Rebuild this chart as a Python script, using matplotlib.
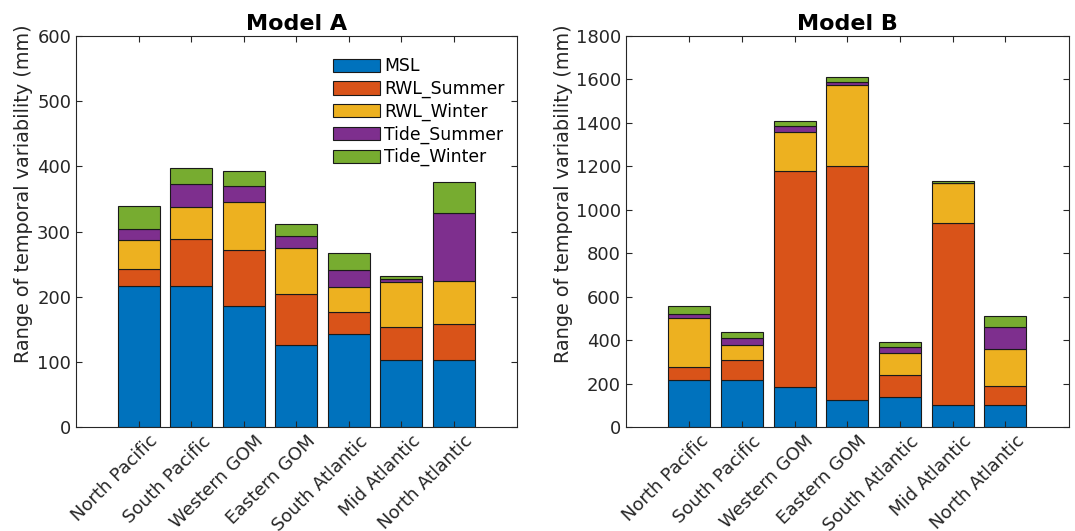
import matplotlib
matplotlib.use("Agg")
import matplotlib.pyplot as plt
import numpy as np

regions = ["North Pacific", "South Pacific", "Western GOM", "Eastern GOM",
           "South Atlantic", "Mid Atlantic", "North Atlantic"]
components = ["MSL", "RWL_Summer", "RWL_Winter", "Tide_Summer", "Tide_Winter"]
colors = ["#0072BD", "#D95319", "#EDB120", "#7E2F8E", "#77AC30"]

# Model A (mm), stacked in the order of components
a_msl = [217, 217, 186, 127, 143, 103, 103]
a_rwl_summer = [26, 72, 86, 78, 34, 51, 55]
a_rwl_winter = [44, 48, 73, 70, 38, 68, 67]
a_tide_summer = [17, 35, 24, 18, 26, 5, 104]
a_tide_winter = [35, 25, 24, 18, 26, 5, 47]

# Model B (mm)
b_msl = [216, 216, 184, 126, 141, 101, 101]
b_rwl_summer = [61, 96, 993, 1077, 98, 839, 90]
b_rwl_winter = [228, 69, 182, 368, 104, 181, 168]
b_tide_summer = [15, 32, 25, 17, 25, 4, 104]
b_tide_winter = [36, 26, 24, 20, 26, 5, 49]

model_a = [a_msl, a_rwl_summer, a_rwl_winter, a_tide_summer, a_tide_winter]
model_b = [b_msl, b_rwl_summer, b_rwl_winter, b_tide_summer, b_tide_winter]

text_col = "#262626"
plt.rcParams["font.family"] = "DejaVu Sans"
plt.rcParams["axes.edgecolor"] = text_col
plt.rcParams["xtick.color"] = text_col
plt.rcParams["ytick.color"] = text_col

fig = plt.figure(figsize=(10.75, 5.31), dpi=100)
ax1 = fig.add_axes([0.0707, 0.195, 0.410, 0.738])
ax2 = fig.add_axes([0.5823, 0.195, 0.4118, 0.738])


def stacked(ax, data, title, ymax, step, label_x):
    x = np.arange(1, len(regions) + 1)
    bottom = np.zeros(len(regions))
    for vals, col, name in zip(data, colors, components):
        ax.bar(x, vals, 0.8, bottom=bottom, color=col,
               edgecolor="#1a1a1a", linewidth=0.8, label=name)
        bottom += np.array(vals)
    ax.set_xlim(-0.2, 8.2)
    ax.set_ylim(0, ymax)
    ax.set_yticks(np.arange(0, ymax + 1, step))
    ax.set_xticks(x)
    ax.set_xticklabels([])
    # labels sit a bit right of their ticks in the original, so put them
    # on invisible minor ticks
    ax.set_xticks(x + 0.19, minor=True)
    ax.set_xticklabels(regions, minor=True, rotation=45, ha="right",
                       rotation_mode="anchor", fontsize=13)
    ax.tick_params(direction="in", top=True, right=True, labelsize=13,
                   length=4, width=0.8)
    ax.tick_params(axis="x", which="minor", length=0, top=False)
    ax.set_ylabel("Range of temporal variability (mm)", fontsize=13.9,
                  color=text_col)
    ax.yaxis.set_label_coords(label_x, 0.597)
    ax.set_title(title, fontsize=16, fontweight="bold", pad=4)


stacked(ax1, model_a, "Model A", 600, 100, -0.0975)
stacked(ax2, model_b, "Model B", 1800, 200, -0.12)

ax1.legend(loc="upper right", bbox_to_anchor=(1.0, 0.975), frameon=False,
           fontsize=12.4, handlelength=2.73, handleheight=0.81,
           handletextpad=0.22, labelspacing=0.26, borderaxespad=0.3)

fig.savefig("out.png", dpi=100)
